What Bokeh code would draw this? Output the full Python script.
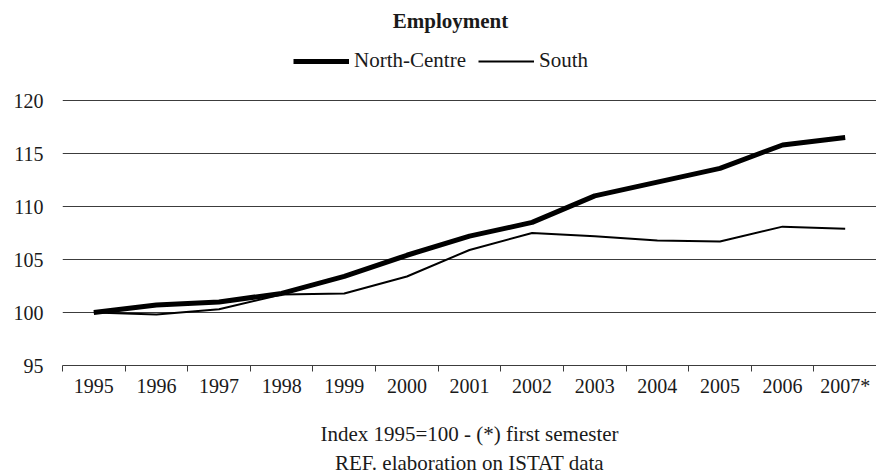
from bokeh.plotting import figure
from bokeh.models import (FixedTicker, Legend, LegendItem, Label, Range1d, Title)
from bokeh.embed import file_html
from bokeh.resources import INLINE
import numpy as np

# Employment index (1995 = 100), yearly; 2007 refers to the first semester
years = ["1995", "1996", "1997", "1998", "1999", "2000", "2001",
         "2002", "2003", "2004", "2005", "2006", "2007*"]
north_centre = [100.0, 100.7, 101.0, 101.8, 103.4, 105.4, 107.2,
                108.5, 111.0, 112.3, 113.6, 115.8, 116.5]
south = [100.0, 99.8, 100.3, 101.7, 101.8, 103.4, 105.9,
         107.5, 107.2, 106.8, 106.7, 108.1, 107.9]
y_ticks = [95, 100, 105, 110, 115, 120]

FONT = "Liberation Serif"
INK = "#1a1a1a"
GRID = "#3c3c3c"

W, H = 876, 475
LEFT, BOTTOM = 62, 110          # space for the y labels / x axis + notes
PLOT_TOP = 100                  # pixel row of the 120 gridline
frame_h = H - BOTTOM
# the frame reaches the top of the canvas so the heading and the key can
# sit inside it; stretch the value range so 95..120 spans the lower part
y_lo, y_hi = y_ticks[0], y_ticks[-1]
y_top = y_hi + PLOT_TOP * (y_hi - y_lo) / (frame_h - PLOT_TOP)

# each category occupies one unit; values sit at the category centres
n = len(years)
centres = list(np.arange(n) + 0.5)
bounds = list(range(n + 1))

p = figure(width=W, height=H, output_backend="svg", toolbar_location=None,
           x_range=Range1d(0, n), y_range=Range1d(y_lo, y_top),
           min_border_left=LEFT, min_border_right=0,
           min_border_top=0, min_border_bottom=BOTTOM)
p.outline_line_color = None
p.background_fill_color = "white"
p.border_fill_color = "white"

r_nc = p.line(centres, north_centre, line_width=5, line_color="black",
              line_join="round")
r_s = p.line(centres, south, line_width=2, line_color="black",
             line_join="round")

# x axis: labels under the centres, tick marks on the category boundaries
xa = p.xaxis[0]
xa.ticker = FixedTicker(ticks=centres, minor_ticks=bounds)
xa.major_label_overrides = {c: y for c, y in zip(centres, years)}
xa.major_tick_in = 0
xa.major_tick_out = 0
xa.minor_tick_in = 0
xa.minor_tick_out = 6
xa.minor_tick_line_color = GRID
xa.axis_line_color = GRID
xa.major_label_text_font = FONT
xa.major_label_text_font_size = "20px"
xa.major_label_text_color = INK
xa.major_label_standoff = 3
# first note line doubles as the axis caption
xa.axis_label = "Index 1995=100 - (*) first semester"
xa.axis_label_standoff = 22
xa.axis_label_text_font = FONT
xa.axis_label_text_font_size = "21px"
xa.axis_label_text_font_style = "normal"
xa.axis_label_text_color = INK

ya = p.yaxis[0]
ya.ticker = FixedTicker(ticks=y_ticks)
ya.axis_line_color = None
ya.major_tick_in = 0
ya.major_tick_out = 0
ya.minor_tick_line_color = None
ya.major_label_standoff = 19
ya.major_label_text_font = FONT
ya.major_label_text_font_size = "20px"
ya.major_label_text_color = INK

p.xgrid.grid_line_color = None
p.ygrid.ticker = FixedTicker(ticks=y_ticks[1:])
p.ygrid.grid_line_color = GRID
p.ygrid.grid_line_width = 1

legend = Legend(items=[LegendItem(label="North-Centre", renderers=[r_nc]),
                       LegendItem(label="South", renderers=[r_s])],
                orientation="horizontal", location=(231, frame_h - 73),
                border_line_color=None, background_fill_alpha=0,
                padding=0, margin=0, spacing=12,
                glyph_width=56, glyph_height=20, label_standoff=5,
                label_height=20,
                label_text_font=FONT, label_text_font_size="21px",
                label_text_color=INK)
p.add_layout(legend, "center")

p.add_layout(Label(x=450 - LEFT, y=frame_h - 20, x_units="screen",
                   y_units="screen", text="Employment", text_align="center",
                   text_baseline="middle", text_font=FONT,
                   text_font_size="21px", text_font_style="bold",
                   text_color=INK))

p.add_layout(Title(text="REF. elaboration on ISTAT data", align="center",
                   text_font=FONT, text_font_size="21px",
                   text_font_style="normal", text_color=INK, standoff=0),
             "below")

open("out.html", "w").write(file_html(p, INLINE))
